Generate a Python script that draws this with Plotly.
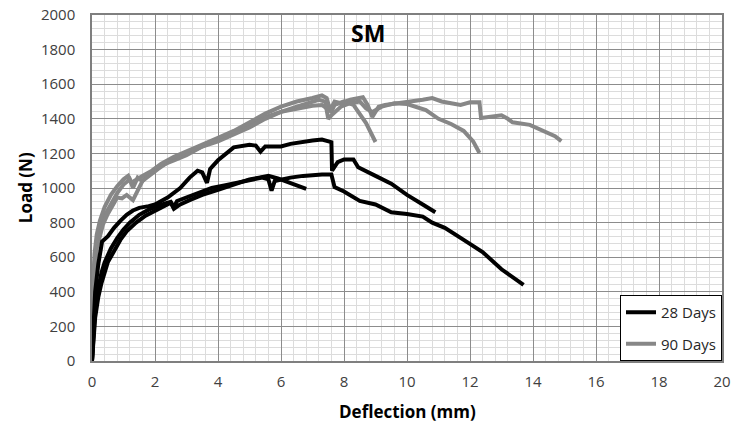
import plotly.graph_objects as go

# ---- data (deflection mm, load N) ----
b1_x = [0, 0.05, 0.1, 0.2, 0.3, 0.4, 0.6, 0.8, 1.0, 1.2, 1.5, 1.8, 2.0, 2.3, 2.5, 2.6, 2.7, 3.0, 3.4, 3.8, 4.2, 4.7, 5.0, 5.4, 5.6, 5.7, 5.8, 6.0, 6.3, 6.7, 7.0, 7.3, 7.6, 7.65, 7.7, 8.0, 8.5, 9.0, 9.3, 9.5, 10.0, 10.5, 10.8, 11.2, 11.8, 12.4, 13.0, 13.7]
b1_y = [0, 200, 300, 420, 510, 570, 650, 710, 760, 800, 845, 875, 890, 910, 920, 890, 925, 945, 975, 1000, 1015, 1035, 1045, 1060, 1050, 985, 1040, 1050, 1060, 1070, 1075, 1078, 1078, 1030, 1005, 980, 925, 905, 880, 860, 850, 835, 800, 770, 700, 630, 530, 440]

b2_x = [0, 0.05, 0.1, 0.2, 0.28, 0.32, 0.5, 0.7, 0.9, 1.1, 1.3, 1.5, 1.8, 2.0, 2.4, 2.8, 3.1, 3.35, 3.5, 3.65, 3.75, 4.0, 4.5, 5.0, 5.2, 5.35, 5.5, 6.0, 6.3, 6.6, 7.0, 7.3, 7.5, 7.6, 7.62, 7.8, 8.0, 8.3, 8.45, 8.6, 9.0, 9.5, 10.0, 10.5, 10.9]
b2_y = [0, 250, 400, 560, 650, 690, 720, 770, 810, 845, 870, 885, 895, 905, 945, 1000, 1060, 1100, 1090, 1030, 1110, 1160, 1235, 1250, 1245, 1210, 1240, 1240, 1255, 1265, 1275, 1280, 1270, 1265, 1100, 1150, 1165, 1165, 1120, 1105, 1070, 1025, 960, 905, 860]

b3_x = [0, 0.05, 0.1, 0.2, 0.3, 0.5, 0.7, 0.9, 1.1, 1.4, 1.7, 2.0, 2.3, 2.5, 2.6, 2.8, 3.1, 3.5, 4.0, 4.5, 5.0, 5.3, 5.6, 5.9, 6.2, 6.5, 6.8]
b3_y = [0, 150, 250, 370, 450, 570, 640, 700, 750, 800, 840, 870, 900, 915, 880, 905, 930, 960, 990, 1020, 1050, 1060, 1070, 1055, 1035, 1015, 995]

g1_x = [0, 0.03, 0.08, 0.15, 0.25, 0.35, 0.5, 0.65, 0.8, 0.95, 1.1, 1.3, 1.45, 1.6, 1.85, 2.2, 2.6, 3.0, 3.5, 4.0, 4.5, 5.0, 5.5, 6.0, 6.5, 7.0, 7.3, 7.6, 7.7, 8.0, 8.3, 8.5, 8.7, 9.0]
g1_y = [0, 300, 520, 650, 730, 790, 850, 900, 945, 940, 960, 930, 990, 1040, 1090, 1130, 1160, 1190, 1240, 1280, 1320, 1370, 1410, 1440, 1460, 1475, 1480, 1440, 1480, 1500, 1480, 1430, 1375, 1266]

g2_x = [0, 0.03, 0.08, 0.15, 0.25, 0.4, 0.6, 0.8, 1.0, 1.2, 1.3, 1.45, 1.6, 1.8, 2.1, 2.5, 3.0, 3.5, 4.0, 4.5, 5.0, 5.5, 6.0, 6.5, 7.0, 7.2, 7.4, 7.5, 7.6, 7.9, 8.2, 8.5, 8.7, 8.9, 9.2, 9.6, 10.0, 10.3, 10.6, 11.0, 11.4, 11.8, 12.1, 12.3]
g2_y = [0, 350, 560, 680, 760, 840, 910, 970, 1020, 1050, 1000, 1060, 1040, 1070, 1110, 1160, 1200, 1240, 1270, 1310, 1350, 1400, 1440, 1470, 1500, 1510, 1500, 1400, 1420, 1470, 1490, 1500, 1460, 1440, 1470, 1490, 1485, 1470, 1450, 1400, 1370, 1330, 1270, 1202]

g3_x = [0, 0.03, 0.08, 0.15, 0.25, 0.4, 0.6, 0.8, 1.0, 1.15, 1.25, 1.4, 1.6, 1.9, 2.2, 2.6, 3.0, 3.5, 4.0, 4.5, 5.0, 5.5, 6.0, 6.5, 7.0, 7.3, 7.45, 7.56, 7.7, 7.9, 8.2, 8.6, 8.75, 8.9, 9.1, 9.3, 9.7, 10.2, 10.5, 10.8, 11.1, 11.4, 11.7, 12.0, 12.3, 12.35, 12.6, 13.0, 13.2, 13.35, 13.9, 14.4, 14.7, 14.9]
g3_y = [0, 420, 620, 730, 810, 890, 960, 1010, 1050, 1070, 1030, 1050, 1070, 1100, 1140, 1180, 1210, 1250, 1290, 1330, 1380, 1430, 1470, 1500, 1520, 1535, 1520, 1450, 1500, 1490, 1510, 1525, 1480, 1410, 1470, 1480, 1490, 1500, 1510, 1520, 1500, 1490, 1480, 1495, 1495, 1405, 1410, 1420, 1400, 1380, 1365, 1325, 1300, 1271]

black_series = [(b1_x, b1_y), (b2_x, b2_y), (b3_x, b3_y)]
gray_series = [(g1_x, g1_y), (g2_x, g2_y), (g3_x, g3_y)]

BLACK = "#000000"
GRAY = "#878787"
FONT = "Open Sans"

fig = go.Figure()
for i, (xs, ys) in enumerate(gray_series):
    fig.add_trace(go.Scatter(x=xs, y=ys, mode="lines", name="90 Days",
                             legendgroup="90", showlegend=(i == 0), legendrank=2,
                             line=dict(color=GRAY, width=4)))
for i, (xs, ys) in enumerate(black_series):
    fig.add_trace(go.Scatter(x=xs, y=ys, mode="lines", name="28 Days",
                             legendgroup="28", showlegend=(i == 0), legendrank=1,
                             line=dict(color=BLACK, width=4)))

fig.update_layout(
    width=733, height=427,
    margin=dict(l=92, r=11, t=15, b=66, autoexpand=False),
    paper_bgcolor="white", plot_bgcolor="white",
    font=dict(family=FONT, size=15, color="#404040"),
    showlegend=True,
    legend=dict(x=1, y=0, xanchor="right", yanchor="bottom",
                bgcolor="white", bordercolor="#000000", borderwidth=1,
                font=dict(family=FONT, size=15, color="#262626"),
                tracegroupgap=9, itemwidth=30),
    annotations=[
        dict(text="<b>SM</b>", x=0.438, y=0.948, xref="paper", yref="paper",
             xanchor="center", yanchor="middle",
             showarrow=False, font=dict(family=FONT, size=23, color="#000000")),
        dict(text="<b>Deflection (mm)</b>", x=0.5, y=-0.147, xref="paper", yref="paper",
             xanchor="center", yanchor="middle",
             showarrow=False, font=dict(family=FONT, size=17, color="#000000")),
        dict(text="<b>Load (N)</b>", x=-0.106, y=0.5, xref="paper", yref="paper",
             xanchor="center", yanchor="middle", textangle=-90,
             showarrow=False, font=dict(family=FONT, size=17, color="#000000")),
    ],
)
fig.update_xaxes(range=[0, 20], dtick=2, tick0=0, automargin=False,
                 showgrid=True, gridcolor="#8c8c8c", gridwidth=1,
                 minor=dict(dtick=0.4, showgrid=True, gridcolor="#dcdcdc", gridwidth=1),
                 showline=True, linecolor="#7f7f7f", linewidth=1.5, mirror=True,
                 zeroline=False, ticks="", ticklabelstandoff=6, ticklabeloverflow="allow")
fig.update_yaxes(range=[0, 2000], dtick=200, tick0=0, automargin=False,
                 showgrid=True, gridcolor="#8c8c8c", gridwidth=1,
                 minor=dict(dtick=40, showgrid=True, gridcolor="#dcdcdc", gridwidth=1),
                 showline=True, linecolor="#7f7f7f", linewidth=1.5, mirror=True,
                 zeroline=False, ticks="", ticklabelstandoff=12, ticklabeloverflow="allow")

# remove the default page margin so the figure fills the 733x427 window exactly
fig.write_html("out.html",
               config={"displayModeBar": False},
               post_script="document.body.style.margin='0';"
                           "document.documentElement.style.overflow='hidden';")
